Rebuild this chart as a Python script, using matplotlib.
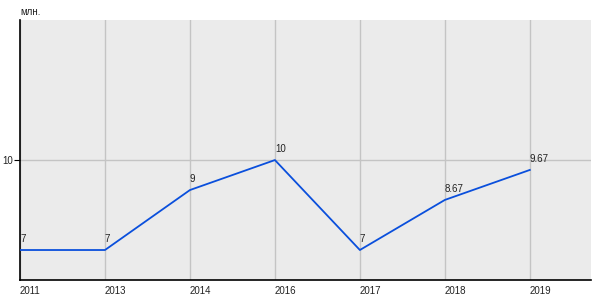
import matplotlib
matplotlib.use("Agg")
import matplotlib.pyplot as plt

# data
years = ['2011', '2013', '2014', '2016', '2017', '2018', '2019']
values = [7, 7, 9, 10, 7, 8.67, 9.67]
labels = ['7', '7', '9', '10', '7', '8.67', '9.67']

plt.rcParams['font.family'] = 'Liberation Sans'

fig = plt.figure(figsize=(6, 3), dpi=100)
ax = fig.add_axes([20/600, 20/300, 571/600, 260/300])
ax.set_facecolor('#ebebeb')

x = list(range(len(years)))
ax.plot(x, values, color='#0a4fdc', lw=1.3, zorder=3)

for xi, v, lab in zip(x, values, labels):
    ax.annotate(lab, (xi, v), xytext=(0, 4), textcoords='offset points',
                ha='left', va='bottom', fontsize=7, color='#222222')

ax.set_xlim(0, 6.72)
ax.set_ylim(6, 14.67)
ax.set_xticks(x)
ax.set_xticklabels(years, ha='left', fontsize=7, color='#222222')
ax.set_yticks([10])
ax.set_yticklabels(['10'], fontsize=7, color='#222222')
ax.tick_params(axis='x', length=0, pad=4)
ax.tick_params(axis='y', length=4, width=0.8, pad=1)

ax.grid(True, color='#c4c4c4', lw=1)
ax.set_axisbelow(True)

for s in ['top', 'right']:
    ax.spines[s].set_visible(False)
for s in ['left', 'bottom']:
    ax.spines[s].set_color('black')
    ax.spines[s].set_linewidth(1.2)

fig.text(20/600, 1 - 12/300, 'млн.', fontsize=7, color='#222222', ha='left', va='center')

fig.savefig('out.png', dpi=100)
